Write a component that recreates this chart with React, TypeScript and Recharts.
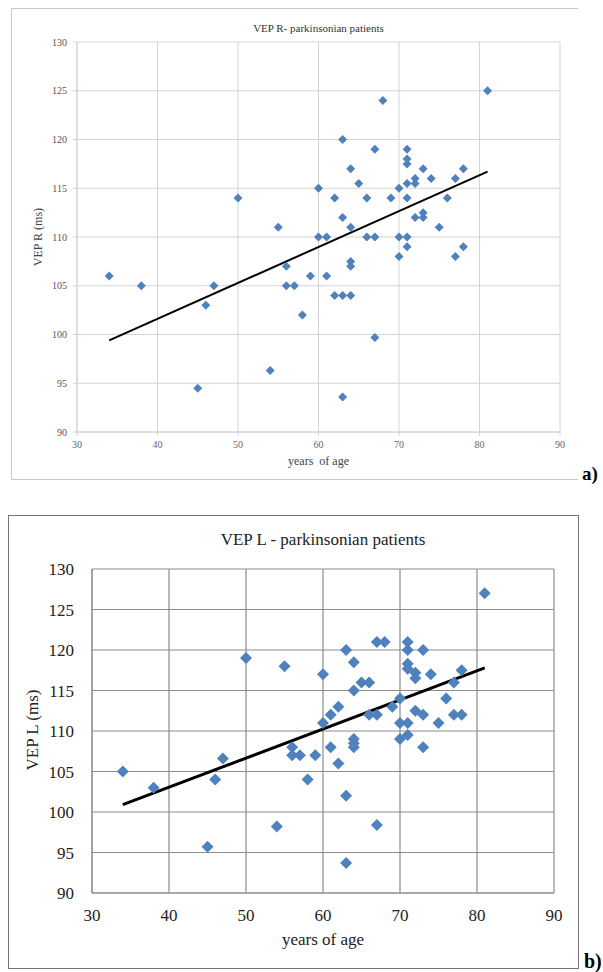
import React from 'react';
import { ScatterChart, Scatter, XAxis, YAxis, CartesianGrid, ReferenceLine } from 'recharts';

// Panel a) VEP R
const agesA = [34, 38, 45, 46, 47, 50, 54, 55, 56, 56, 57, 58, 59, 60, 60, 61, 61, 62, 62, 63, 63, 63, 63, 64, 64, 64, 64, 64, 65, 66, 66, 67, 67, 67, 68, 69, 70, 70, 70, 71, 71, 71, 71, 71, 71, 71, 72, 72, 72, 73, 73, 73, 74, 75, 76, 77, 77, 78, 78, 81];
const vepR = [106, 105, 94.5, 103, 105, 114, 96.3, 111, 107, 105, 105, 102, 106, 115, 110, 110, 106, 114, 104, 120, 112, 104, 93.6, 117, 111, 107.5, 107, 104, 115.5, 114, 110, 119, 110, 99.7, 124, 114, 115, 110, 108, 119, 118, 117.5, 115.5, 114, 110, 109, 116, 115.5, 112, 117, 112.5, 112, 116, 111, 114, 116, 108, 117, 109, 125];
const trendAgeA = [34, 81];
const trendR = [99.4, 116.7];

// Panel b) VEP L
const agesB = [34, 38, 45, 46, 47, 50, 54, 55, 56, 56, 57, 58, 59, 60, 60, 61, 61, 62, 62, 63, 63, 63, 64, 64, 64, 64, 64, 65, 66, 66, 67, 67, 67, 68, 69, 70, 70, 70, 71, 71, 71, 71, 71, 71, 72, 72, 72, 73, 73, 73, 74, 75, 76, 77, 77, 78, 78, 81];
const vepL = [105, 103, 95.7, 104, 106.6, 119, 98.2, 118, 108, 107, 107, 104, 107, 117, 111, 112, 108, 113, 106, 120, 102, 93.7, 118.5, 115, 109, 108.5, 108, 116, 116, 112, 121, 112, 98.4, 121, 113, 114, 111, 109, 121, 120, 118.3, 117.7, 111, 109.5, 117.2, 116.5, 112.5, 120, 112, 108, 117, 111, 114, 116, 112, 117.5, 112, 127];
const trendAgeB = [34, 81];
const trendL = [100.9, 117.8];

const xTicks = [30, 40, 50, 60, 70, 80, 90];
const yTicks = [90, 95, 100, 105, 110, 115, 120, 125, 130];

const titleA = 'VEP R- parkinsonian patients';
const titleB = 'VEP L - parkinsonian patients';
const xLabelA = 'years\u00a0 of age';
const xLabelB = 'years of age';
const yLabelA = 'VEP R (ms)';
const yLabelB = 'VEP L (ms)';

const dataA = agesA.map((a, i) => ({ age: a, v: vepR[i] }));
const dataB = agesB.map((a, i) => ({ age: a, v: vepL[i] }));

const FONT = '"Liberation Serif", "Times New Roman", serif';
const BLUE = '#4f81bd';

const makeDiamond = (r: number) => (props: any) => {
  const { cx, cy } = props;
  if (cx == null || cy == null) return <g />;
  return (
    <polygon
      points={`${cx},${cy - r} ${cx + r},${cy} ${cx},${cy + r} ${cx - r},${cy}`}
      fill={BLUE}
    />
  );
};

const abs = (s: React.CSSProperties): React.CSSProperties => ({ position: 'absolute', ...s });

export default function App() {
  return (
    <div style={{ position: 'absolute', left: 0, top: 0, width: 603, height: 972, background: '#fff', fontFamily: FONT, overflow: 'hidden' }}>
      {/* Panel a frame */}
      <div style={abs({ left: 11, top: 8, width: 567, height: 472, borderTop: '1px solid #c8c8c8', borderLeft: '1px solid #c8c8c8', borderBottom: '1px solid #c8c8c8', boxSizing: 'border-box' })} />
      <div style={abs({ left: 0, top: 0 })}>
        <ScatterChart width={603} height={490} margin={{ top: 42, right: 43, bottom: 28, left: 37 }}>
          <CartesianGrid stroke="#d4d4d4" strokeWidth={1} />
          <XAxis
            type="number"
            dataKey="age"
            domain={[30, 90]}
            ticks={xTicks}
            height={30}
            axisLine={{ stroke: '#d4d4d4' }}
            tickLine={{ stroke: '#d4d4d4' }}
            tickSize={4}
            tick={{ fontSize: 10, fill: '#666', fontFamily: FONT }}
            tickMargin={5}
          />
          <YAxis
            type="number"
            dataKey="v"
            domain={[90, 130]}
            ticks={yTicks}
            width={40}
            axisLine={{ stroke: '#d4d4d4' }}
            tickLine={{ stroke: '#d4d4d4' }}
            tickSize={4}
            tick={{ fontSize: 10, fill: '#555', fontFamily: FONT }}
            tickMargin={6}
          />
          <Scatter data={dataA} shape={makeDiamond(4.5)} isAnimationActive={false} />
          <ReferenceLine
            segment={[{ x: trendAgeA[0], y: trendR[0] }, { x: trendAgeA[1], y: trendR[1] }]}
            stroke="#000"
            strokeWidth={2}
            ifOverflow="visible"
          />
        </ScatterChart>
      </div>
      <div style={abs({ left: 77, width: 483, top: 21, textAlign: 'center', fontSize: 11, color: '#333', lineHeight: '14px' })}>{titleA}</div>
      <div style={abs({ left: 77, width: 483, top: 454, textAlign: 'center', fontSize: 12, color: '#444', lineHeight: '14px', whiteSpace: 'pre' })}>{xLabelA}</div>
      <div style={abs({ left: 38 - 60, top: 237 - 7, width: 120, textAlign: 'center', fontSize: 12, color: '#444', lineHeight: '14px', transform: 'rotate(-90deg)' })}>{yLabelA}</div>
      <div style={abs({ left: 582, top: 463, fontSize: 19, fontWeight: 'bold', color: '#000', lineHeight: '22px' })}>a)</div>

      {/* Panel b frame */}
      <div style={abs({ left: 8, top: 515, width: 571, height: 454, border: '1px solid #777', boxSizing: 'border-box' })} />
      <div style={abs({ left: 0, top: 500 })}>
        <ScatterChart width={603} height={470} margin={{ top: 69, right: 49, bottom: 37, left: 42 }}>
          <CartesianGrid stroke="#8c8c8c" strokeWidth={1.2} />
          <XAxis
            type="number"
            dataKey="age"
            domain={[30, 90]}
            ticks={xTicks}
            height={40}
            axisLine={{ stroke: '#8c8c8c' }}
            tickLine={false}
            tick={{ fontSize: 17, fill: '#222', fontFamily: FONT }}
            tickMargin={10}
          />
          <YAxis
            type="number"
            dataKey="v"
            domain={[90, 130]}
            ticks={yTicks}
            width={50}
            axisLine={{ stroke: '#8c8c8c' }}
            tickLine={false}
            tick={{ fontSize: 17, fill: '#222', fontFamily: FONT }}
            tickMargin={12}
          />
          <Scatter data={dataB} shape={makeDiamond(6)} isAnimationActive={false} />
          <ReferenceLine
            segment={[{ x: trendAgeB[0], y: trendL[0] }, { x: trendAgeB[1], y: trendL[1] }]}
            stroke="#000"
            strokeWidth={3}
            ifOverflow="visible"
          />
        </ScatterChart>
      </div>
      <div style={abs({ left: 92, width: 462, top: 530, textAlign: 'center', fontSize: 17, color: '#222', lineHeight: '20px' })}>{titleB}</div>
      <div style={abs({ left: 92, width: 462, top: 930, textAlign: 'center', fontSize: 17, color: '#222', lineHeight: '20px' })}>{xLabelB}</div>
      <div style={abs({ left: 33 - 70, top: 730 - 10, width: 140, textAlign: 'center', fontSize: 17, color: '#222', lineHeight: '20px', transform: 'rotate(-90deg)' })}>{yLabelB}</div>
      <div style={abs({ left: 584, top: 950, fontSize: 20, fontWeight: 'bold', color: '#000', lineHeight: '22px' })}>b)</div>
    </div>
  );
}
